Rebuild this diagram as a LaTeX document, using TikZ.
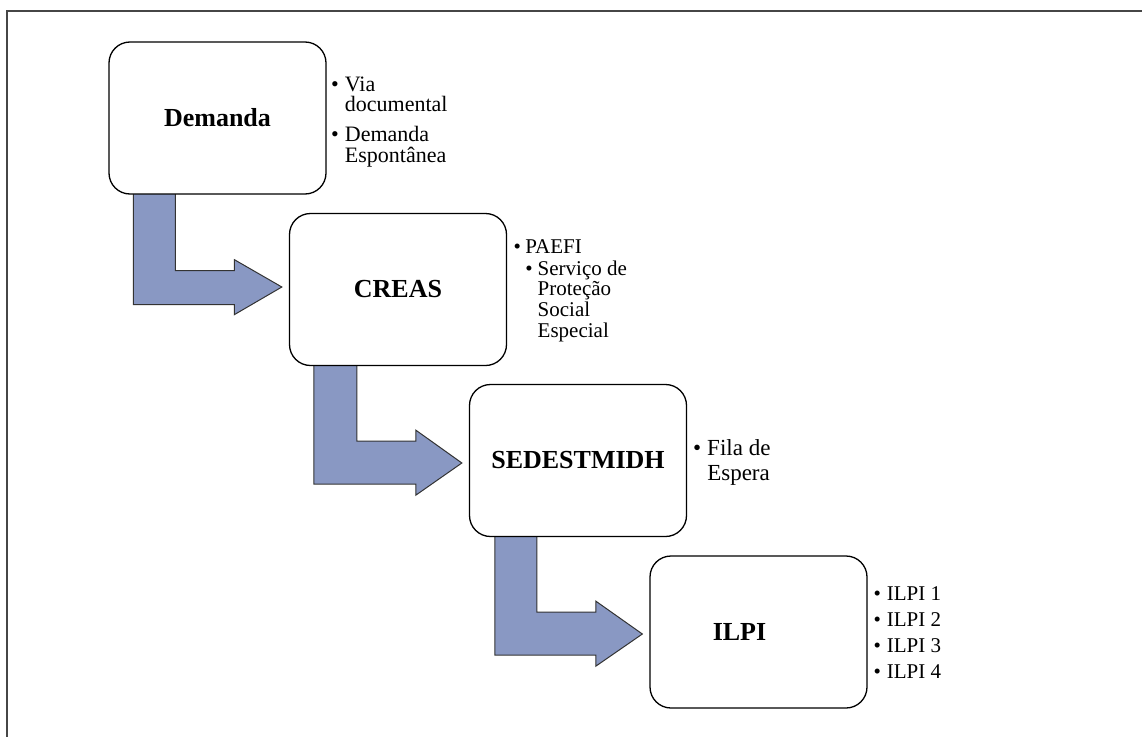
\documentclass[tikz,border=0pt]{standalone}
\usepackage{fontspec}
\setmainfont{Liberation Serif}
\usetikzlibrary{calc,backgrounds}
\definecolor{arrowfill}{RGB}{137,152,195}
\definecolor{framegray}{RGB}{70,70,70}
\begin{document}
\begin{tikzpicture}[x=1pt,y=-1pt,
  stage/.style={draw=black, line width=1.3pt, rounded corners=21pt, minimum width=217pt, minimum height=152pt, inner sep=0pt, font=\fontsize{26}{30}\selectfont\bfseries, fill=white},
  bent/.style={fill=arrowfill, draw=black!80, line width=1pt, line join=miter},
  blist/.style={inner sep=0pt, anchor=base west, font=\fontsize{21}{19}\selectfont}]
\useasboundingbox (0,0) rectangle (1142,736);
\draw[framegray, line width=1.6pt] (7,740) -- (7,11) -- (1146,11);

\node[stage] (dem) at (217.5,118) {Demanda};
\node[stage] (creas) at (398,289.5) {CREAS};
\node[stage] (sed) at (578,460.5) {SEDESTMIDH};
\node[stage] (ilpi) at (758.5,632) {ILPI\hbox to 38pt{}};

\begin{scope}[on background layer]
\draw[bent] ($(dem.south west)+(25,-3)$) -- ($(dem.south west)+(67,-3)$) -- ($(dem.south west)+(67,76)$) -- ($(dem.south west)+(126,76)$) -- ($(dem.south west)+(126,65)$) -- ($(creas.west)+(-7,-2.5)$) -- ($(dem.south west)+(126,120)$) -- ($(dem.south west)+(126,110)$) -- ($(dem.south west)+(25,110)$) -- cycle;
\draw[bent] ($(creas.south west)+(25,-3)$) -- ($(creas.south west)+(68,-3)$) -- ($(creas.south west)+(68,75)$) -- ($(creas.south west)+(127,75)$) -- ($(creas.south west)+(127,64)$) -- ($(sed.west)+(-7,2.5)$) -- ($(creas.south west)+(127,129)$) -- ($(creas.south west)+(127,118)$) -- ($(creas.south west)+(25,118)$) -- cycle;
\draw[bent] ($(sed.south west)+(26,-3)$) -- ($(sed.south west)+(68,-3)$) -- ($(sed.south west)+(68,75)$) -- ($(sed.south west)+(127,75)$) -- ($(sed.south west)+(127,64)$) -- ($(ilpi.west)+(-7,2)$) -- ($(sed.south west)+(127,129)$) -- ($(sed.south west)+(127,118)$) -- ($(sed.south west)+(26,118)$) -- cycle;
\end{scope}

\node[blist, font=\fontsize{22}{19}\selectfont] (demlist) at (331,91) {\begin{tabular}[t]{@{}l@{\hspace{6pt}}l@{}}\textbullet & Via\\ & documental\\[9pt] \textbullet & Demanda\\ & Espontânea\end{tabular}};
\node[blist] (creaslist) at (513.3,253) {\begin{tabular}[t]{@{}l@{\hspace{4.5pt}}l@{\hspace{5pt}}l@{}}\textbullet & \multicolumn{2}{@{}l@{}}{PAEFI}\\[2pt] & \textbullet & Serviço de\\[0.5pt] & & Proteção\\[0.5pt] & & Social\\[0.5pt] & & Especial\end{tabular}};
\node[blist, font=\fontsize{23}{25}\selectfont] (sedlist) at (693,455) {\begin{tabular}[t]{@{}l@{\hspace{6pt}}l@{}}\textbullet & Fila de\\ & Espera\end{tabular}};
\node[blist] (ilpilist) at (873.3,600) {\begin{tabular}[t]{@{}l@{\hspace{6pt}}l@{}}\textbullet & ILPI 1\\[6.7pt] \textbullet & ILPI 2\\[6.7pt] \textbullet & ILPI 3\\[6.7pt] \textbullet & ILPI 4\end{tabular}};
\end{tikzpicture}
\end{document}
